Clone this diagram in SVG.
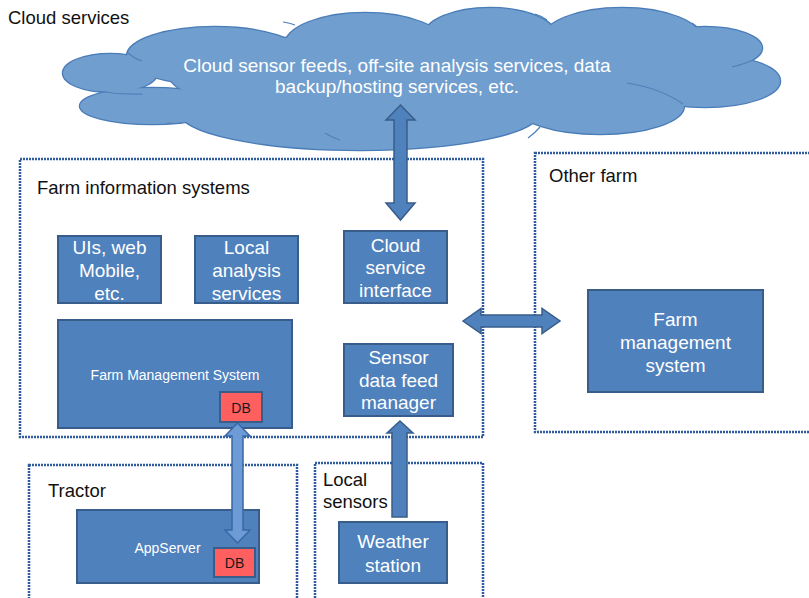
<svg xmlns="http://www.w3.org/2000/svg" xmlns:xlink="http://www.w3.org/1999/xlink" width="809" height="598" viewBox="0 0 809 598">
  <style>
    .label { font-family: "Liberation Sans", Arial, sans-serif; fill: #111111; font-size: 18.5px; }
    .box { fill: #4f81bd; stroke: #385d8a; stroke-width: 2; }
    .db { fill: #ff5f5f; stroke: #385d8a; stroke-width: 2; }
    .btxt { font-family: "Liberation Sans", Arial, sans-serif; fill: #ffffff; font-size: 19px; text-anchor: middle; }
    .stxt { font-family: "Liberation Sans", Arial, sans-serif; fill: #ffffff; font-size: 14px; text-anchor: middle; }
    .dtxt { font-family: "Liberation Sans", Arial, sans-serif; fill: #1a1a1a; font-size: 14px; text-anchor: middle; }
    .zone { fill: none; stroke: #2f5b9e; stroke-width: 2.5; stroke-dasharray: 2 1; }
    .arrow { fill: #4f81bd; stroke: #385d8a; stroke-width: 1.5; stroke-linejoin: miter; }
    .arrow-light { fill: #6c9bd6; stroke: #3a67a6; stroke-width: 1.5; }
    .cloud-edge { fill: #4a7cb8; stroke: #4a7cb8; stroke-width: 2.5; }
    .cloud-fill { fill: #709ece; stroke: none; }
    .cloud-line { fill: none; stroke: #4f80ba; stroke-width: 1.2; }
  </style>
  <defs>
    <g id="cloudShape">
      <ellipse cx="110" cy="73" rx="47" ry="19"/>
      <ellipse cx="152" cy="106" rx="72" ry="18"/>
      <ellipse cx="215" cy="56" rx="88" ry="29"/>
      <ellipse cx="365" cy="45" rx="80" ry="32"/>
      <ellipse cx="490" cy="36" rx="66" ry="28"/>
      <ellipse cx="622" cy="40" rx="80" ry="32"/>
      <ellipse cx="705" cy="48" rx="57" ry="21"/>
      <ellipse cx="705" cy="81" rx="75" ry="26"/>
      <ellipse cx="600" cy="106" rx="84" ry="28"/>
      <ellipse cx="360" cy="112" rx="180" ry="38"/>
      <ellipse cx="420" cy="76" rx="250" ry="45"/>
    </g>
  </defs>

  <!-- cloud -->
  <g id="cloud">
    <use xlink:href="#cloudShape" class="cloud-edge"/>
    <use xlink:href="#cloudShape" class="cloud-fill"/>
    <path class="cloud-line" d="M127 52 Q133 58 142 61"/>
    <path class="cloud-line" d="M98 91 Q120 95 143 94"/>
    <path class="cloud-line" d="M167 123 Q175 124 182 123"/>
    <path class="cloud-line" d="M295 25 Q290 23 283 22"/>
    <path class="cloud-line" d="M547 20 Q542 16 535 14"/>
    <path class="cloud-line" d="M697 27 Q695 25 692 23"/>
    <path class="cloud-line" d="M732 67 Q745 64 755 59"/>
    <path class="cloud-line" d="M627 83 Q660 88 683 104"/>
    <path class="cloud-line" d="M540 127 Q535 133 528 138"/>
    <path class="cloud-line" d="M325 133 Q333 138 340 140"/>
    <text class="btxt" font-size="18" x="397" y="72" fill="#f4f4f4">Cloud sensor feeds, off-site analysis services, data</text>
    <text class="btxt" font-size="18" x="397" y="93" fill="#f4f4f4">backup/hosting services, etc.</text>
  </g>
  <text class="label" x="8" y="24">Cloud services</text>

  <!-- dotted zones -->
  <g id="zones">
    <rect id="zone-farm" class="zone" x="20" y="159" width="463" height="278"/>
    <rect id="zone-other" class="zone" x="535" y="153" width="290" height="279"/>
    <rect id="zone-tractor" class="zone" x="29" y="465" width="268" height="150"/>
    <rect id="zone-sensors" class="zone" x="315" y="463" width="168" height="150"/>
    <text class="label" x="37" y="194">Farm information systems</text>
    <text class="label" x="549" y="182">Other farm</text>
    <text class="label" x="48" y="497">Tractor</text>
    <text class="label" x="323" y="486">Local</text>
    <text class="label" x="323" y="508">sensors</text>
  </g>

  <!-- nodes -->
  <g id="uis">
    <rect class="box" x="58" y="236" width="103" height="67"/>
    <text class="btxt" x="109.5" y="254">UIs, web</text>
    <text class="btxt" x="109.5" y="277">Mobile,</text>
    <text class="btxt" x="109.5" y="300">etc.</text>
  </g>
  <g id="local-analysis">
    <rect class="box" x="195" y="236" width="103" height="67"/>
    <text class="btxt" x="246.5" y="254">Local</text>
    <text class="btxt" x="246.5" y="277">analysis</text>
    <text class="btxt" x="246.5" y="300">services</text>
  </g>
  <g id="cloud-interface">
    <rect class="box" x="344" y="231" width="103" height="72"/>
    <text class="btxt" x="395.5" y="252">Cloud</text>
    <text class="btxt" x="395.5" y="274">service</text>
    <text class="btxt" x="395.5" y="297">interface</text>
  </g>
  <g id="fms">
    <rect class="box" x="58" y="320" width="234" height="108"/>
    <text class="stxt" x="175" y="380">Farm Management System</text>
    <rect class="db" x="220" y="392" width="42" height="30"/>
    <text class="dtxt" x="241" y="413">DB</text>
  </g>
  <g id="sensor-feed">
    <rect class="box" x="344" y="344" width="109" height="72"/>
    <text class="btxt" x="398.5" y="364">Sensor</text>
    <text class="btxt" x="398.5" y="387">data feed</text>
    <text class="btxt" x="398.5" y="409">manager</text>
  </g>
  <g id="other-fms">
    <rect class="box" x="588" y="290" width="175" height="102"/>
    <text class="btxt" x="675.5" y="326">Farm</text>
    <text class="btxt" x="675.5" y="349">management</text>
    <text class="btxt" x="675.5" y="372">system</text>
  </g>
  <g id="appserver">
    <rect class="box" x="77" y="510" width="182" height="73"/>
    <text class="stxt" x="167.5" y="553">AppServer</text>
    <rect class="db" x="214" y="548" width="41" height="29"/>
    <text class="dtxt" x="234.5" y="568">DB</text>
  </g>
  <g id="weather">
    <rect class="box" x="339" y="522" width="108" height="61"/>
    <text class="btxt" x="393" y="548">Weather</text>
    <text class="btxt" x="393" y="572">station</text>
  </g>

  <!-- connectors -->
  <g id="connectors">
    <!-- cloud <-> cloud service interface -->
    <path class="arrow" d="M400.5 105 L415 120 L407 120 L407 203 L415 203 L400.5 220 L386 203 L394 203 L394 120 L386 120 Z"/>
    <!-- farm info systems <-> other farm -->
    <path class="arrow" d="M463 321 L481 308.5 L481 315 L542 315 L542 308.5 L560 321 L542 333.5 L542 327 L481 327 L481 333.5 Z"/>
    <!-- weather station -> sensor data feed manager -->
    <path class="arrow" d="M400 421 L413 433 L407 433 L407 517 L392 517 L392 433 L387 433 Z"/>
    <!-- FMS DB <-> AppServer DB -->
    <path class="arrow-light" d="M237.5 423 L250 436 L243 436 L243 530 L250 530 L237.5 543 L225 530 L232 530 L232 436 L225 436 Z"/>
  </g>
</svg>
